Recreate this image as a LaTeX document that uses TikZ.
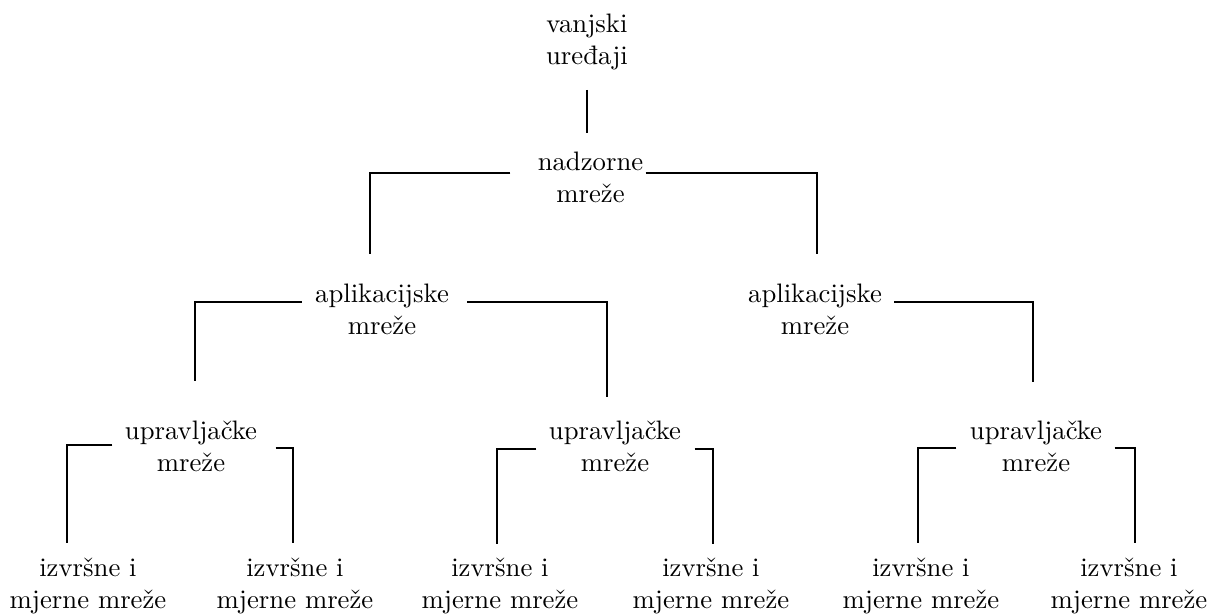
\documentclass[tikz,border=0pt]{standalone}
\usepackage{tikz}

\begin{document}
\begin{tikzpicture}[x=0.3745pt,y=-0.3745pt,
  net/.style={align=center,anchor=base,inner sep=0pt},
  link/.style={line width=0.75pt}]

  \useasboundingbox (0,0) rectangle (1216,615);

  % levels (base = last line)
  \node[net] (dev)  at (587,65)    {vanjski\\uređaji};
  \node[net] (sup)  at (590.5,203) {nadzorne\\mreže};
  \node[net] (appA) at (382,335)   {aplikacijske\\mreže};
  \node[net] (appB) at (815,335)   {aplikacijske\\mreže};
  \node[net] (ctlA) at (191,472)   {upravljačke\\mreže};
  \node[net] (ctlB) at (615,472)   {upravljačke\\mreže};
  \node[net] (ctlC) at (1036,472)  {upravljačke\\mreže};
  \node[net] (fldA) at (88,609)    {izvršne i\\mjerne mreže};
  \node[net] (fldB) at (295,609)   {izvršne i\\mjerne mreže};
  \node[net] (fldC) at (500,609)   {izvršne i\\mjerne mreže};
  \node[net] (fldD) at (711,609)   {izvršne i\\mjerne mreže};
  \node[net] (fldE) at (921,609)   {izvršne i\\mjerne mreže};
  \node[net] (fldF) at (1129,609)  {izvršne i\\mjerne mreže};

  % free line ends
  \coordinate (sup-in)  at (587,133);
  \coordinate (appA-in) at (370,254);
  \coordinate (appB-in) at (817,254);
  \coordinate (ctlA-in) at (195,381);
  \coordinate (ctlB-in) at (607,397);
  \coordinate (ctlC-in) at (1033,382);
  \coordinate (fldA-in) at (67,543);
  \coordinate (fldB-in) at (293,543);
  \coordinate (fldC-in) at (497,544);
  \coordinate (fldD-in) at (713,544);
  \coordinate (fldE-in) at (918,543);
  \coordinate (fldF-in) at (1135,543);

  % links
  \draw[link] (dev.base) ++(0,25) -- (sup-in);
  \draw[link] (sup.base west) ++(-27,-30) -| (appA-in);
  \draw[link] (sup.base east) ++(2,-30) -| (appB-in);
  \draw[link] (appA.base west) ++(-13,-33) -| (ctlA-in);
  \draw[link] (appA.base east) ++(18,-33) -| (ctlB-in);
  \draw[link] (appB.base east) ++(12,-33) -| (ctlC-in);
  \draw[link] (ctlA.base west) ++(-12,-27) -| (fldA-in);
  \draw[link] (ctlA.base east) ++(18,-24) -| (fldB-in);
  \draw[link] (ctlB.base west) ++(-12,-23) -| (fldC-in);
  \draw[link] (ctlB.base east) ++(13,-23) -| (fldD-in);
  \draw[link] (ctlC.base west) ++(-13,-24) -| (fldE-in);
  \draw[link] (ctlC.base east) ++(12,-24) -| (fldF-in);
\end{tikzpicture}
\end{document}
